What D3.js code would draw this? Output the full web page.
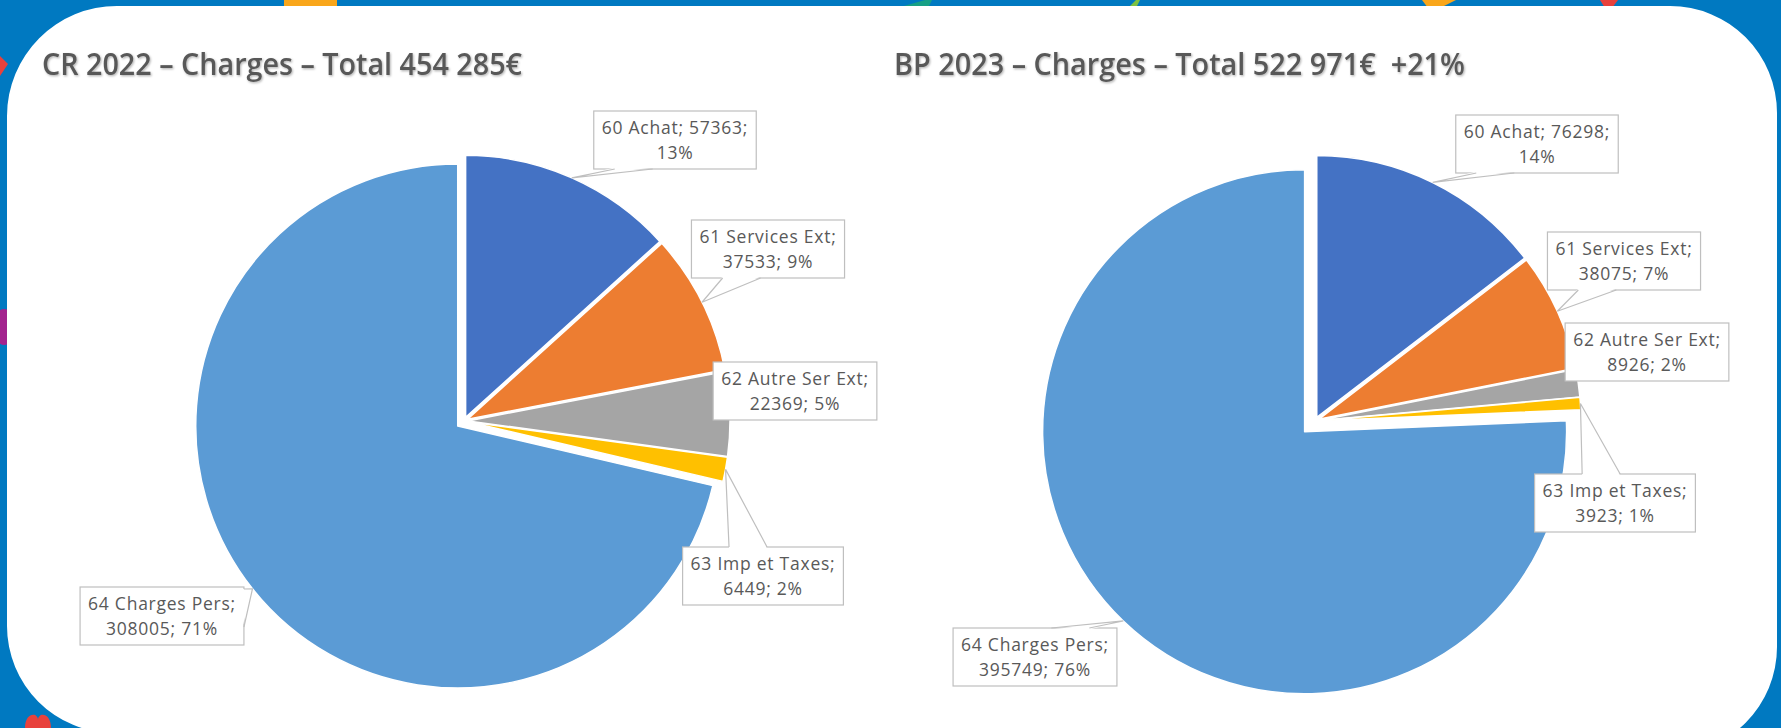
<!DOCTYPE html>
<html><head><meta charset="utf-8">
<script src="https://cdn.jsdelivr.net/npm/d3@7"></script>
<style>
body{margin:0;background:#0079c1;overflow:hidden}
svg{display:block}
</style>
</head><body>
<svg id="chart" width="1781" height="728"></svg>
<script>
// ---------- DATA ----------
const categories = ["60 Achat", "61 Services Ext", "62 Autre Ser Ext", "63 Imp et Taxes", "64 Charges Pers"];
const values2022 = [57363, 37533, 22369, 6449, 308005];
const values2023 = [76298, 38075, 8926, 3923, 395749];
const percent2022 = ["13%", "9%", "5%", "2%", "71%"];
const percent2023 = ["14%", "7%", "2%", "1%", "76%"];
const titles = ["CR 2022 \u2013 Charges \u2013 Total 454 285\u20ac", "BP 2023 \u2013 Charges \u2013 Total 522 971\u20ac  +21%"];
const sliceColors = ["#4472c4", "#ed7d31", "#a5a5a5", "#ffc000", "#5b9bd5"];

// ---------- LAYOUT ----------
const W = 1781, H = 728;
const charts = [
  { values: values2022, pct: percent2022, title: titles[0],
    cx: 464, cy: 421, r: 262, explode: [4, 4, 4, 4, 8],
    titleX: 42, titleW: 480,
    labelPos: [[211, -281], [304, -172], [331, -30], [299, 155], [-302, 195]],
    pointer: [true, true, false, true, true] },
  { values: values2023, pct: percent2023, title: titles[1],
    cx: 1315, cy: 421, r: 262, explode: [4, 4, 4, 4, 15],
    titleX: 894, titleW: 571,
    labelPos: [[222, -277], [309, -160], [332, -69], [300, 82], [-280, 236]],
    pointer: [true, true, false, true, true] }
];

const svg = d3.select("#chart");
const defs = svg.append("defs");
const f = defs.append("filter").attr("id", "tshadow").attr("x", "-5%").attr("y", "-30%").attr("width", "110%").attr("height", "160%");
f.append("feDropShadow").attr("dx", 1).attr("dy", 1.2).attr("stdDeviation", 1).attr("flood-color", "#000").attr("flood-opacity", 0.3);

// ---------- BACKGROUND ----------
svg.append("rect").attr("width", W).attr("height", H).attr("fill", "#0079c1");
const deco = svg.append("g");
deco.append("rect").attr("x", 284).attr("y", 0).attr("width", 53).attr("height", 8).attr("fill", "#f9a61a");
deco.append("path").attr("d", "M897,8 L925,0 L932,0 L928,8 Z").attr("fill", "#16a085");
deco.append("path").attr("d", "M1128,8 L1136,0 L1140,0 L1136,8 Z").attr("fill", "#7dc242");
deco.append("path").attr("d", "M1422,0 L1456,0 L1440,8 L1428,8 Z").attr("fill", "#f9a61a");
deco.append("path").attr("d", "M1600,0 L1618,0 L1612,8 L1605,8 Z").attr("fill", "#e8413c");
deco.append("path").attr("d", "M0,56 L8,64 L0,76 Z").attr("fill", "#e8413c");
deco.append("ellipse").attr("cx", 4).attr("cy", 327).attr("rx", 11).attr("ry", 18).attr("fill", "#a3238e");
deco.append("path").attr("d", "M25,728 C25,712 38,712 38,720 C38,712 51,712 51,728 Z").attr("fill", "#e8413c");

function panelPath() {
  const x0 = 7, y0 = 6, x1 = 1777;
  const tl = 110, tr = 107, br = 107, bl = 107;
  const brY = 647, blY = 626;
  return `M${x0 + tl},${y0} H${x1 - tr} A${tr},${tr} 0 0 1 ${x1},${y0 + tr} V${brY} A${br},${br} 0 0 1 ${x1 - br},${brY + br} L${x0 + bl},${blY + bl} A${bl},${bl} 0 0 1 ${x0},${blY} V${y0 + tl} A${tl},${tl} 0 0 1 ${x0 + tl},${y0} Z`;
}
svg.append("path").attr("d", panelPath()).attr("fill", "#ffffff");

// ---------- CHARTS ----------
const labelFont = "'Open Sans', 'Noto Sans', sans-serif";
const labelSize = 17.5;
const spacing = 0.75;
const maxLine = 172;
const measurer = svg.append("text").attr("font-family", labelFont).attr("font-size", labelSize)
  .attr("letter-spacing", spacing).attr("visibility", "hidden");
function measure(s) { measurer.text(s); return measurer.node().getComputedTextLength(); }

charts.forEach(ch => {
  svg.append("text")
    .attr("x", ch.titleX).attr("y", 75)
    .attr("font-family", "'Open Sans', sans-serif").attr("font-weight", 600)
    .attr("font-size", 30).attr("fill", "#595959")
    .attr("textLength", ch.titleW).attr("lengthAdjust", "spacingAndGlyphs")
    .style("white-space", "pre").attr("filter", "url(#tshadow)")
    .text(ch.title);

  const pie = d3.pie().sort(null).value(d => d).startAngle(0).endAngle(2 * Math.PI);
  const arcs = pie(ch.values);
  const arc = d3.arc().innerRadius(0).outerRadius(ch.r);

  const g = svg.append("g").attr("transform", `translate(${ch.cx},${ch.cy})`);
  arcs.forEach((a, i) => {
    const mid = (a.startAngle + a.endAngle) / 2;
    const e = ch.explode[i];
    g.append("path")
      .attr("transform", `translate(${e * Math.sin(mid)},${-e * Math.cos(mid)})`)
      .attr("d", arc(a))
      .attr("fill", sliceColors[i])
      .attr("stroke", "#ffffff").attr("stroke-width", 1.5).attr("stroke-linejoin", "round");
  });

  arcs.forEach((a, i) => {
    const mid = (a.startAngle + a.endAngle) / 2;
    const e = ch.explode[i];
    const tx = ch.cx + (e + ch.r) * Math.sin(mid);
    const ty = ch.cy - (e + ch.r) * Math.cos(mid);
    const words = [categories[i] + ";", ...(`${ch.values[i]}; ${ch.pct[i]}`).split(" ")];
    const lines = [];
    let cur = "";
    words.forEach(w => {
      const test = cur ? cur + " " + w : w;
      if (cur && measure(test) > maxLine) { lines.push(cur); cur = w; } else cur = test;
    });
    if (cur) lines.push(cur);
    const tw = d3.max(lines, measure);
    const bw = tw + 16, bh = 58;
    const bcx = ch.cx + ch.labelPos[i][0], bcy = ch.cy + ch.labelPos[i][1];
    const bx0 = bcx - bw / 2, by0 = bcy - bh / 2, bx1 = bcx + bw / 2, by1 = bcy + bh / 2;
    const lg = svg.append("g");
    lg.append("rect").attr("x", bx0).attr("y", by0).attr("width", bw).attr("height", bh)
      .attr("fill", "#ffffff").attr("stroke", "#bfbfbf").attr("stroke-width", 1.2);
    if (ch.pointer[i]) {
      const dx = tx - bcx, dy = ty - bcy;
      const half = 19;
      let p1, p2, q1, q2;
      if (Math.abs(dx) / (bw / 2) > Math.abs(dy) / (bh / 2)) {
        const ex = dx > 0 ? bx1 : bx0;
        const inward = dx > 0 ? -1.5 : 1.5;
        const yc = bcy + Math.max(-(bh / 2 - half - 2), Math.min(bh / 2 - half - 2, dy * 0.4));
        p1 = [ex, yc - half]; p2 = [ex, yc + half];
        q1 = [ex + inward, yc - half]; q2 = [ex + inward, yc + half];
      } else {
        const ey = dy > 0 ? by1 : by0;
        const inward = dy > 0 ? -1.5 : 1.5;
        const xc = bcx + Math.max(-(bw / 2 - half - 4), Math.min(bw / 2 - half - 4, dx * 0.4));
        p1 = [xc - half, ey]; p2 = [xc + half, ey];
        q1 = [xc - half, ey + inward]; q2 = [xc + half, ey + inward];
      }
      lg.append("path").attr("d", `M${q1[0]},${q1[1]} L${tx},${ty} L${q2[0]},${q2[1]} Z`)
        .attr("fill", "#ffffff").attr("stroke", "none");
      lg.append("path").attr("d", `M${p1[0]},${p1[1]} L${tx},${ty} L${p2[0]},${p2[1]}`)
        .attr("fill", "none").attr("stroke", "#bfbfbf").attr("stroke-width", 1.2);
    }
    const t = lg.append("text").attr("font-family", labelFont).attr("font-size", labelSize)
      .attr("letter-spacing", spacing).attr("fill", "#595959").attr("text-anchor", "middle");
    const lh = 25;
    const base = bcy + 6 - (lines.length - 1) * lh / 2;
    lines.forEach((ln, k) => {
      t.append("tspan").attr("x", bcx).attr("y", base + k * lh).text(ln);
    });
  });
});
measurer.remove();
</script>
</body></html>
